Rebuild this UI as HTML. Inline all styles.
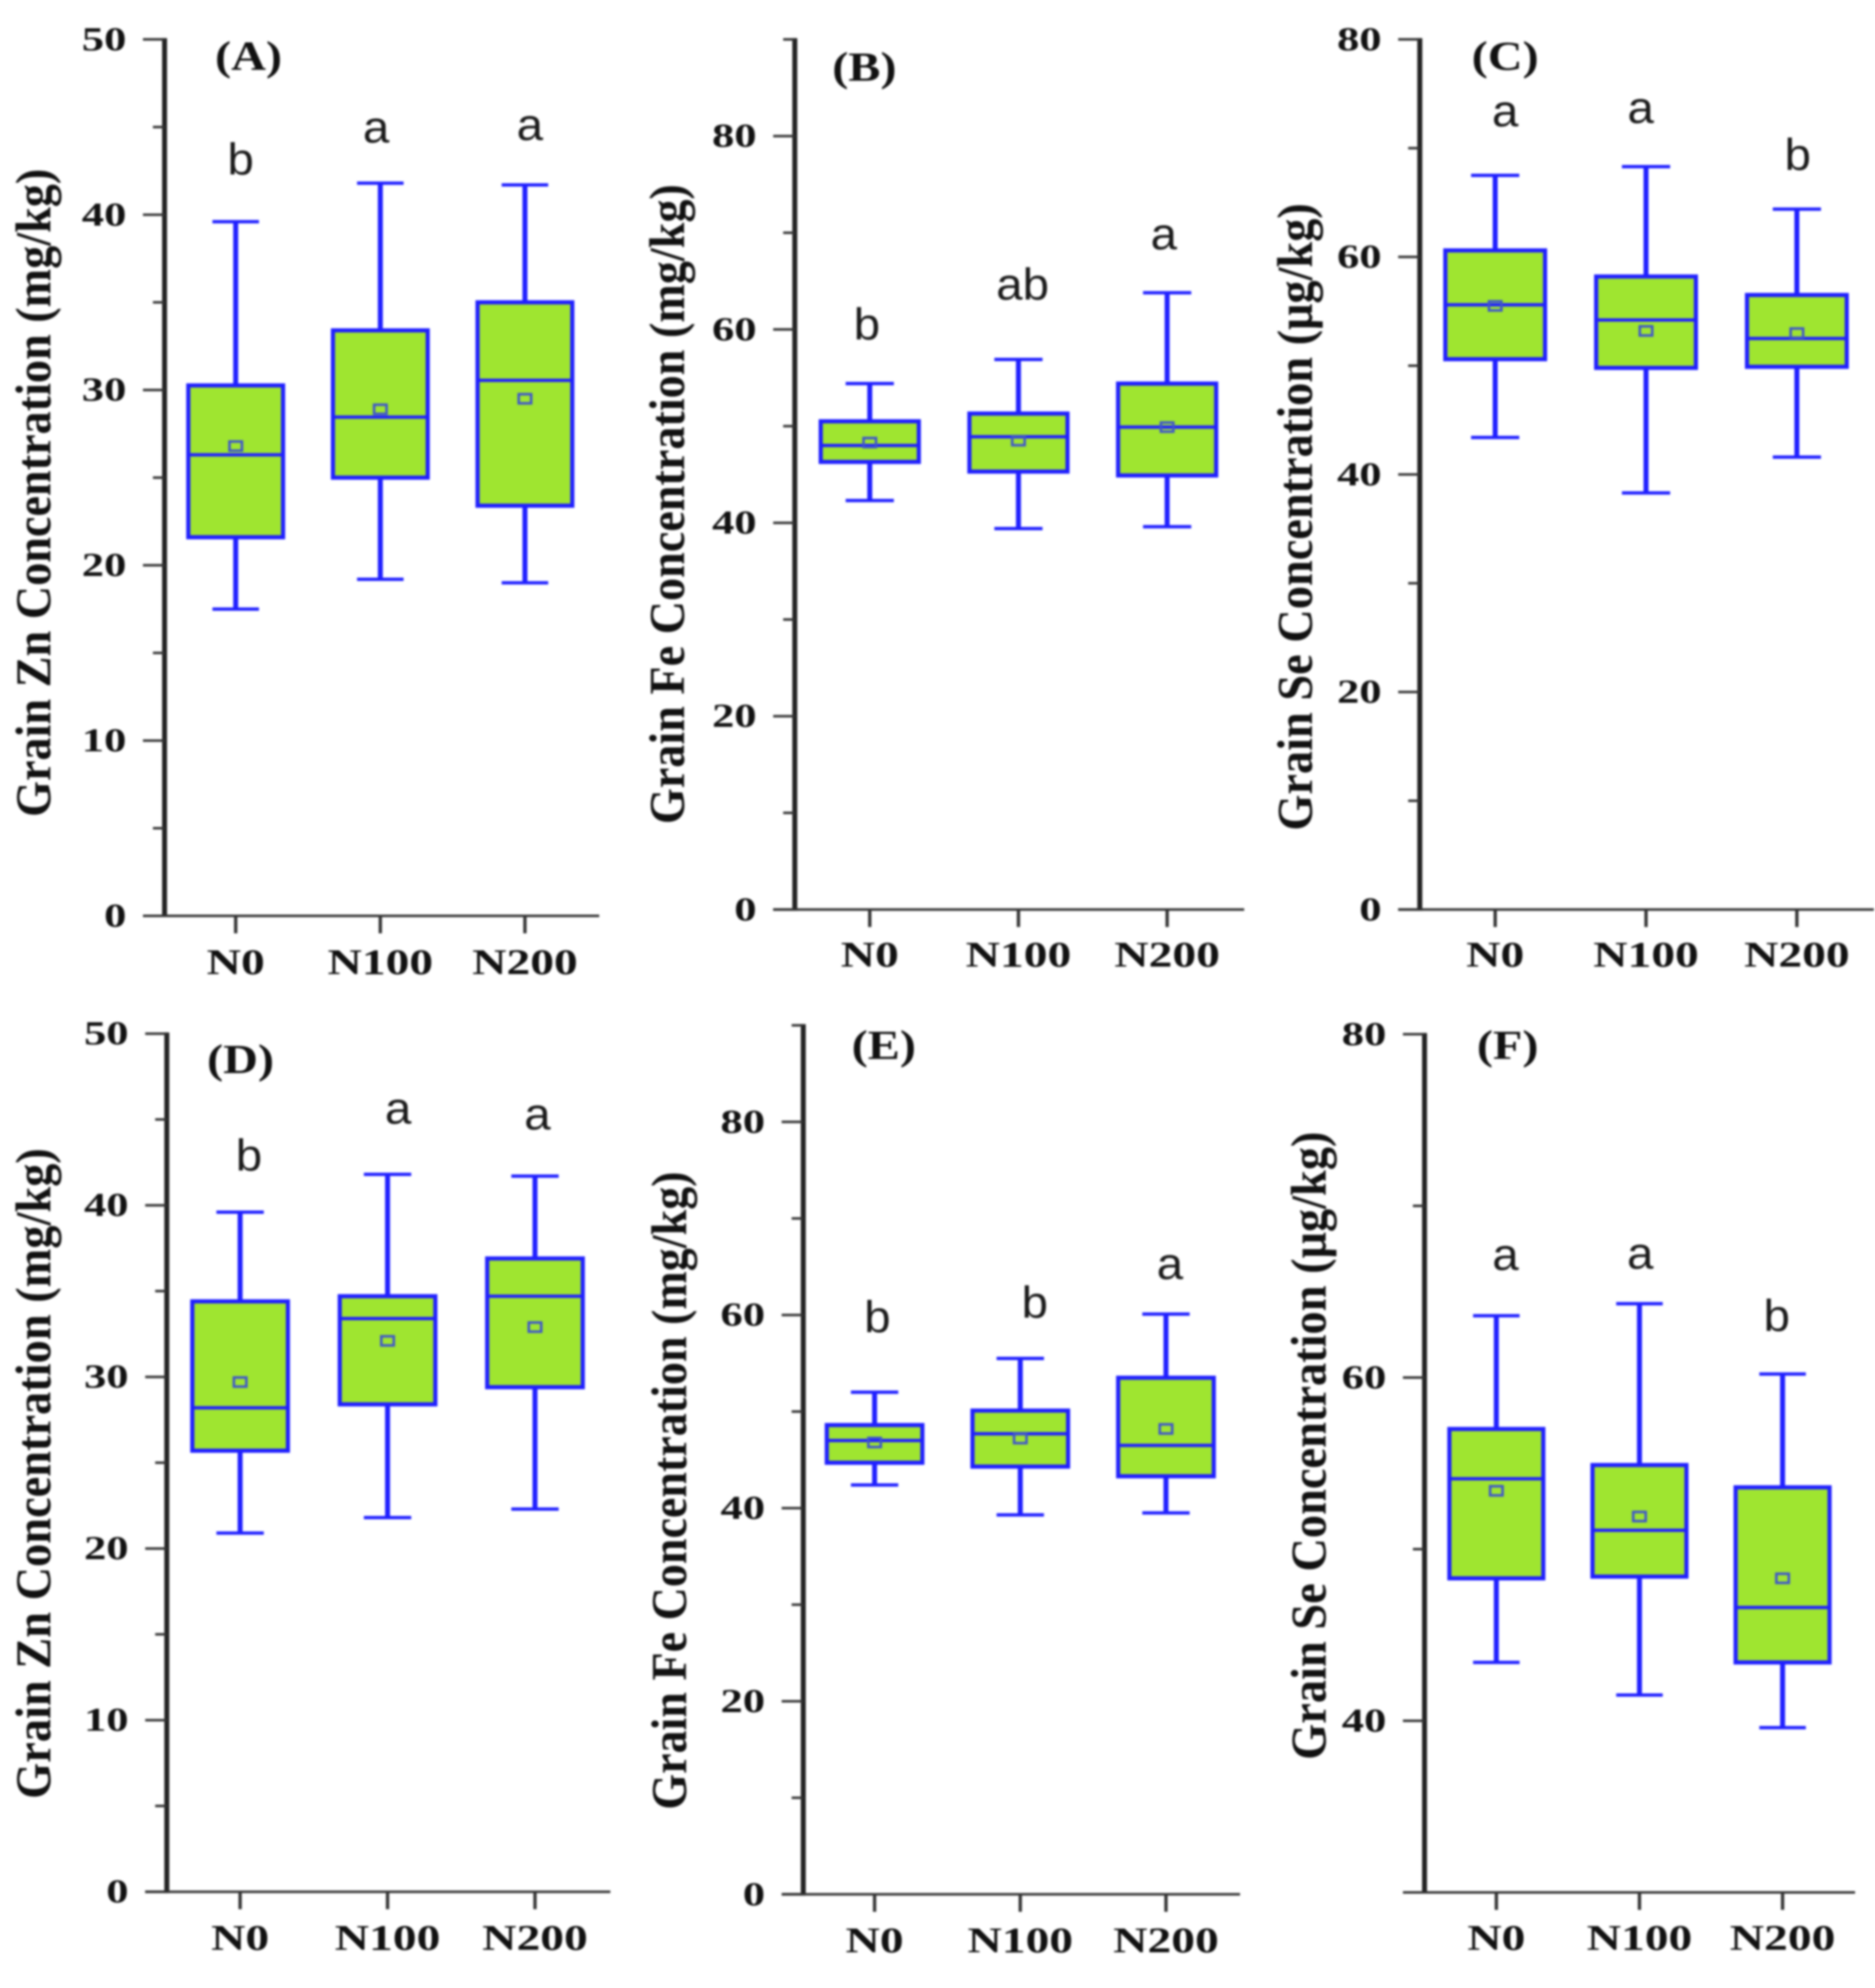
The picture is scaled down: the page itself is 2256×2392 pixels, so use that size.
<!DOCTYPE html>
<html lang="en">
<head>
<meta charset="utf-8">
<title>Grain Zn, Fe and Se concentration box plots</title>
<style>
html,body{margin:0;padding:0;background:#fff;width:2256px;height:2392px;overflow:hidden}
svg{display:block;filter:blur(1.3px)}
</style>
</head>
<body>
<svg id="figure" xmlns="http://www.w3.org/2000/svg" width="2256" height="2392" viewBox="0 0 2256 2392"></svg>
<script>
const categories = ['N0', 'N100', 'N200'];

const aLow = [17.5, 19.2, 19.0];
const aQ1 = [21.6, 25.0, 23.4];
const aMedian = [26.3, 28.45, 30.55];
const aMean = [26.8, 28.9, 29.5];
const aQ3 = [30.26, 33.4, 35.0];
const aHigh = [39.6, 41.8, 41.7];
const aLetters = ['b', 'a', 'a'];

const bLow = [42.3, 39.4, 39.6];
const bQ1 = [46.3, 45.3, 44.9];
const bMedian = [48.0, 48.9, 49.9];
const bMean = [48.3, 48.5, 49.9];
const bQ3 = [50.5, 51.3, 54.4];
const bHigh = [54.4, 56.9, 63.8];
const bLetters = ['b', 'ab', 'a'];

const cLow = [43.4, 38.3, 41.6];
const cQ1 = [50.6, 49.8, 49.9];
const cMedian = [55.6, 54.2, 52.5];
const cMean = [55.5, 53.2, 53.0];
const cQ3 = [60.6, 58.2, 56.5];
const cHigh = [67.5, 68.3, 64.4];
const cLetters = ['a', 'a', 'b'];

const dLow = [20.9, 21.8, 22.3];
const dQ1 = [25.7, 28.4, 29.4];
const dMedian = [28.2, 33.4, 34.7];
const dMean = [29.7, 32.1, 32.9];
const dQ3 = [34.4, 34.7, 36.9];
const dHigh = [39.6, 41.8, 41.7];
const dLetters = ['b', 'a', 'a'];

const eLow = [42.4, 39.3, 39.5];
const eQ1 = [44.7, 44.3, 43.3];
const eMedian = [47.0, 47.7, 46.5];
const eMean = [46.8, 47.2, 48.2];
const eQ3 = [48.6, 50.1, 53.5];
const eHigh = [52.0, 55.5, 60.1];
const eLetters = ['b', 'b', 'a'];

const fLow = [43.4, 41.5, 39.6];
const fQ1 = [48.3, 48.4, 43.4];
const fMedian = [54.1, 51.1, 46.6];
const fMean = [53.4, 51.9, 48.3];
const fQ3 = [57.0, 54.9, 53.6];
const fHigh = [63.6, 64.3, 60.2];
const fLetters = ['a', 'a', 'b'];

const zincMajorTicks = [0, 10, 20, 30, 40, 50];
const zincMinorTicks = [5, 15, 25, 35, 45];
const ironMajorTicks = [0, 20, 40, 60, 80];
const ironMinorTicks = [10, 30, 50, 70, 90];
const seleniumMajorTicks = [0, 20, 40, 60, 80];
const seleniumMinorTicks = [10, 30, 50, 70];
const seleniumLowerMajorTicks = [40, 60, 80];
const seleniumLowerMinorTicks = [50, 70];

const SVG_NS = 'http://www.w3.org/2000/svg';
const figure = document.getElementById('figure');
const SERIF = '"Liberation Serif", serif';
const SANS = '"Liberation Sans", sans-serif';
const BLUE = '#2020ff';
const FILL = '#9fe530';
const DARK = '#222222';

const panels = [
  { id: 'a', title: '(A)', ylabel: 'Grain Zn Concentration (mg/kg)',
    low: aLow, q1: aQ1, median: aMedian, mean: aMean, q3: aQ3, high: aHigh, letters: aLetters,
    major: zincMajorTicks, minor: zincMinorTicks, min: 0, max: 50,
    axisX: 198, axisEnd: 721, top: 47.4, bottom: 1102, first: 283.6, step: 174, boxW: 114, capW: 56,
    catBase: 1172, titleX: 299, titleBase: 84, labelX: 60.6, labelY: 593, labelLen: 780,
    letterGap: [57, 49, 54], letterDx: [6, -5, 6] },
  { id: 'b', title: '(B)', ylabel: 'Grain Fe Concentration (mg/kg)',
    low: bLow, q1: bQ1, median: bMedian, mean: bMean, q3: bQ3, high: bHigh, letters: bLetters,
    major: ironMajorTicks, minor: ironMinorTicks, min: 0, max: 90,
    axisX: 956.3, axisEnd: 1497, top: 47.4, bottom: 1094.4, first: 1046.5, step: 178.9, boxW: 118, capW: 58,
    catBase: 1163, titleX: 1040, titleBase: 97, labelX: 823, labelY: 606.6, labelLen: 770,
    letterGap: [53, 72, 52], letterDx: [-3.5, 5, -4] },
  { id: 'c', title: '(C)', ylabel: 'Grain Se Concentration (μg/kg)',
    low: cLow, q1: cQ1, median: cMedian, mean: cMean, q3: cQ3, high: cHigh, letters: cLetters,
    major: seleniumMajorTicks, minor: seleniumMinorTicks, min: 0, max: 80,
    axisX: 1708.3, axisEnd: 2254.6, top: 47.4, bottom: 1094.4, first: 1799, step: 181.5, boxW: 120, capW: 58,
    catBase: 1163, titleX: 1811, titleBase: 84, labelX: 1578.6, labelY: 622, labelLen: 755,
    letterGap: [59, 52.5, 47], letterDx: [12, -6.5, 1] },
  { id: 'd', title: '(D)', ylabel: 'Grain Zn Concentration (mg/kg)',
    low: dLow, q1: dQ1, median: dMedian, mean: dMean, q3: dQ3, high: dHigh, letters: dLetters,
    major: zincMajorTicks, minor: zincMinorTicks, min: 0, max: 50,
    axisX: 200.7, axisEnd: 734.4, top: 1243.7, bottom: 2276.2, first: 288.9, step: 177.4, boxW: 115, capW: 57,
    catBase: 2346, titleX: 289.4, titleBase: 1291, labelX: 60.6, labelY: 1773, labelLen: 783,
    letterGap: [50, 61, 56], letterDx: [10.7, 12.7, 3] },
  { id: 'e', title: '(E)', ylabel: 'Grain Fe Concentration (mg/kg)',
    low: eLow, q1: eQ1, median: eMedian, mean: eMean, q3: eQ3, high: eHigh, letters: eLetters,
    major: ironMajorTicks, minor: ironMinorTicks, min: 0, max: 90,
    axisX: 966.5, axisEnd: 1492, top: 1233.7, bottom: 2279.3, first: 1052.3, step: 175.3, boxW: 115, capW: 57,
    catBase: 2349, titleX: 1063.4, titleBase: 1274, labelX: 825.4, labelY: 1793.5, labelLen: 768,
    letterGap: [72, 49, 42], letterDx: [3.4, 17.4, 4.8] },
  { id: 'f', title: '(F)', ylabel: 'Grain Se Concentration (μg/kg)',
    low: fLow, q1: fQ1, median: fMedian, mean: fMean, q3: fQ3, high: fHigh, letters: fLetters,
    major: seleniumLowerMajorTicks, minor: seleniumLowerMinorTicks, min: 30, max: 80,
    axisX: 1714, axisEnd: 2232, top: 1244.4, bottom: 2277, first: 1800.4, step: 172.2, boxW: 113, capW: 56,
    catBase: 2346, titleX: 1814, titleBase: 1274, labelX: 1595, labelY: 1739.5, labelLen: 756,
    letterGap: [55, 42, 52], letterDx: [11, 1, -7] }
];

function make(tag, attrs, parent) {
  const node = document.createElementNS(SVG_NS, tag);
  for (const key in attrs) node.setAttribute(key, attrs[key]);
  parent.appendChild(node);
  return node;
}

function yScale(p, value) {
  return p.bottom - (value - p.min) / (p.max - p.min) * (p.bottom - p.top);
}

function xScale(p, index) {
  return p.first + index * p.step;
}

function drawAxes(p, group) {
  const yAxis = make('line', { x1: p.axisX, x2: p.axisX, y1: p.top - 1.5, y2: p.bottom + 1.5, stroke: DARK, 'stroke-width': 6 }, group);
  
  

  const xAxis = make('line', { x1: p.axisX - 26, x2: p.axisEnd, y1: p.bottom, y2: p.bottom, stroke: '#333333', 'stroke-width': 3 }, group);
  
  

  p.major.forEach(function (value) {
    const y = yScale(p, value);
    const tick = make('line', { x1: p.axisX - 26, x2: p.axisX, y1: y, y2: y, stroke: '#333333', 'stroke-width': 3 }, group);
    
    

    const label = make('text', {
      transform: 'translate(' + (p.axisX - 46) + ',' + (y + 13) + ') scale(1.34,1)',
      'text-anchor': 'end', 'font-family': SERIF, 'font-weight': 'bold', 'font-size': 40, fill: '#111111'
    }, group);
    label.textContent = String(value);
    
    
  });

  p.minor.forEach(function (value) {
    const y = yScale(p, value);
    const tick = make('line', { x1: p.axisX - 14, x2: p.axisX, y1: y, y2: y, stroke: '#333333', 'stroke-width': 3 }, group);
    
    
  });

  categories.forEach(function (name, i) {
    const x = xScale(p, i);
    const tick = make('line', { x1: x, x2: x, y1: p.bottom, y2: p.bottom + 21, stroke: '#333333', 'stroke-width': 4 }, group);
    
    

    const label = make('text', {
      transform: 'translate(' + x + ',' + p.catBase + ') scale(1.33,1)',
      'text-anchor': 'middle', 'font-family': SERIF, 'font-weight': 'bold', 'font-size': 43, fill: '#111111'
    }, group);
    label.textContent = name;
    
    
  });

  const axisTitle = make('text', {
    transform: 'translate(' + p.labelX + ',' + p.labelY + ') rotate(-90)',
    'text-anchor': 'middle', 'font-family': SERIF, 'font-weight': 'bold', 'font-size': 60, fill: '#111111',
    textLength: p.labelLen, lengthAdjust: 'spacingAndGlyphs'
  }, group);
  axisTitle.textContent = p.ylabel;
  
  

  const panelTitle = make('text', {
    transform: 'translate(' + p.titleX + ',' + p.titleBase + ') scale(1.16,1)',
    'text-anchor': 'middle', 'font-family': SERIF, 'font-weight': 'bold', 'font-size': 50, fill: '#111111'
  }, group);
  panelTitle.textContent = p.title;
  
  
}

function drawBox(p, i, group) {
  const x = xScale(p, i);
  const box = make('g', {}, group);
  
  

  const yHigh = yScale(p, p.high[i]);
  const yLow = yScale(p, p.low[i]);
  const yQ3 = yScale(p, p.q3[i]);
  const yQ1 = yScale(p, p.q1[i]);
  const yMedian = yScale(p, p.median[i]);
  const yMean = yScale(p, p.mean[i]);

  const upper = make('line', { x1: x, x2: x, y1: yHigh, y2: yQ3, stroke: BLUE, 'stroke-width': 6 }, box);
  
  

  const lower = make('line', { x1: x, x2: x, y1: yQ1, y2: yLow, stroke: BLUE, 'stroke-width': 6 }, box);
  
  

  const capHigh = make('line', { x1: x - p.capW / 2, x2: x + p.capW / 2, y1: yHigh, y2: yHigh, stroke: BLUE, 'stroke-width': 4 }, box);
  
  

  const capLow = make('line', { x1: x - p.capW / 2, x2: x + p.capW / 2, y1: yLow, y2: yLow, stroke: BLUE, 'stroke-width': 4 }, box);
  
  

  const rect = make('rect', { x: x - p.boxW / 2, y: yQ3, width: p.boxW, height: yQ1 - yQ3, fill: FILL, stroke: BLUE, 'stroke-width': 5 }, box);
  
  

  const median = make('line', { x1: x - p.boxW / 2, x2: x + p.boxW / 2, y1: yMedian, y2: yMedian, stroke: BLUE, 'stroke-width': 4 }, box);
  
  

  const mean = make('rect', { x: x - 7.5, y: yMean - 5.5, width: 15, height: 11, fill: 'none', stroke: '#3f55cc', 'stroke-width': 3 }, box);
  
  

  const letter = make('text', {
    transform: 'translate(' + (x + p.letterDx[i]) + ',' + (yHigh - p.letterGap[i]) + ') scale(1.06,1)',
    'text-anchor': 'middle', 'font-family': SANS, 'font-size': 54, fill: '#1a1a1a'
  }, group);
  letter.textContent = p.letters[i];
  
  
}

panels.forEach(function (p) {
  const group = make('g', {}, figure);
  
  
  categories.forEach(function (name, i) { drawBox(p, i, group); });
  drawAxes(p, group);
});
</script>
</body>
</html>
